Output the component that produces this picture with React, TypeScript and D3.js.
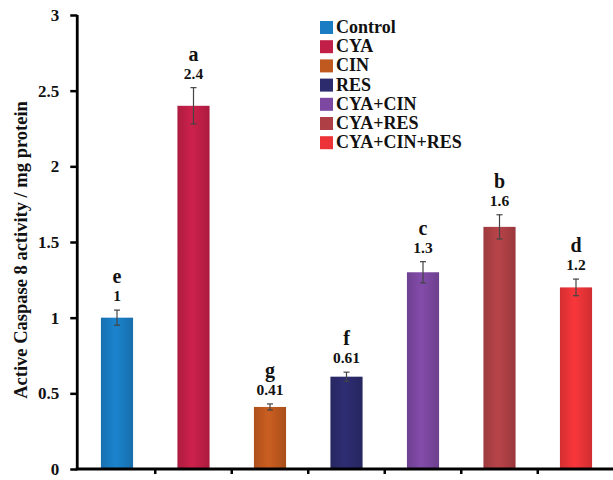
import React, { useEffect, useRef } from 'react';
import * as d3 from 'd3';

const groups = ['Control', 'CYA', 'CIN', 'RES', 'CYA+CIN', 'CYA+RES', 'CYA+CIN+RES'];
const values = [1, 2.4, 0.41, 0.61, 1.3, 1.6, 1.2];
const errors = [0.05, 0.12, 0.02, 0.03, 0.07, 0.08, 0.055];
const letters = ['e', 'a', 'g', 'f', 'c', 'b', 'd'];
const valueLabels = ['1', '2.4', '0.41', '0.61', '1.3', '1.6', '1.2'];
const colors = ['#1a7dc3', '#c21f47', '#c0591f', '#2b2b6d', '#7c48a1', '#ae4045', '#ec3438'];
const yTicks = [0, 0.5, 1, 1.5, 2, 2.5, 3];

const W = 613;
const H = 480;
const FONT = '"Liberation Serif", "Times New Roman", serif';

const App = () => {
  const ref = useRef<SVGSVGElement>(null);

  useEffect(() => {
    const svg = d3.select(ref.current)
      .attr('width', W)
      .attr('height', H);

    svg.selectAll('*').remove();

    const x0 = 78.75;
    const y = d3.scaleLinear().domain([0, 3]).range([469, 15]);
    const x = d3.scaleBand()
      .domain(groups)
      .range([x0, x0 + 76.5 * groups.length])
      .paddingInner(0.58)
      .paddingOuter(0.29);

    // gradients for the glossy bar look
    const defs = svg.append('defs');
    colors.forEach((c, i) => {
      const g = defs.append('linearGradient').attr('id', 'g' + i)
        .attr('x1', '0').attr('x2', '1').attr('y1', '0').attr('y2', '0');
      const base = d3.color(c)!;
      g.append('stop').attr('offset', '0%').attr('stop-color', base.darker(0.3).toString());
      g.append('stop').attr('offset', '45%').attr('stop-color', base.brighter(0.15).toString());
      g.append('stop').attr('offset', '100%').attr('stop-color', base.darker(0.35).toString());
    });

    // bars
    svg.append('g').selectAll('rect')
      .data(values)
      .enter()
      .append('rect')
      .attr('x', (d, i) => x(groups[i])!)
      .attr('y', d => y(d))
      .attr('width', x.bandwidth())
      .attr('height', d => y(0) - y(d))
      .attr('fill', (d, i) => `url(#g${i})`);

    // error bars
    const eb = svg.append('g').attr('stroke', '#444').attr('stroke-width', 1.2);
    values.forEach((v, i) => {
      const cx = x(groups[i])! + x.bandwidth() / 2;
      eb.append('line').attr('x1', cx).attr('x2', cx)
        .attr('y1', y(v - errors[i])).attr('y2', y(v + errors[i]));
      eb.append('line').attr('x1', cx - 3).attr('x2', cx + 3)
        .attr('y1', y(v + errors[i])).attr('y2', y(v + errors[i]));
      eb.append('line').attr('x1', cx - 3).attr('x2', cx + 3)
        .attr('y1', y(v - errors[i])).attr('y2', y(v - errors[i]));
    });

    // value labels and significance letters
    const lab = svg.append('g').attr('font-family', FONT).attr('font-weight', 'bold')
      .attr('text-anchor', 'middle').attr('fill', '#111');
    values.forEach((v, i) => {
      const cx = x(groups[i])! + x.bandwidth() / 2;
      const top = y(v + errors[i]);
      lab.append('text').attr('x', cx).attr('y', top - 9)
        .attr('font-size', 15.5).text(valueLabels[i]);
      lab.append('text').attr('x', cx).attr('y', top - 27)
        .attr('font-size', 20).text(letters[i]);
    });

    // y axis
    const yAxis = svg.append('g')
      .attr('transform', `translate(${x0 - 1.5},0)`)
      .call(d3.axisLeft(y).tickValues(yTicks).tickFormat(d3.format('')).tickSize(7).tickSizeOuter(0).tickPadding(11));
    yAxis.select('.domain').attr('stroke-width', 2.8).attr('d', `M0,${y(3)}V${y(0) + 1}`);
    yAxis.selectAll('.tick line').attr('stroke-width', 2.5);
    yAxis.selectAll('.tick text')
      .attr('font-family', FONT).attr('font-weight', 'bold').attr('font-size', 17).attr('fill', '#111');

    // x axis
    const xAxis = svg.append('g')
      .attr('transform', `translate(0,${y(0)})`)
      .call(d3.axisBottom(x).tickValues([]).tickSizeOuter(0));
    xAxis.select('.domain').attr('stroke-width', 3).attr('d', `M${x0 - 3},0H${W}`);
    const sep = groups.slice(1).map((g, i) => x0 + 76.5 * (i + 1));
    xAxis.selectAll('line.sep').data(sep).enter().append('line')
      .attr('x1', d => d).attr('x2', d => d).attr('y1', 0).attr('y2', 5)
      .attr('stroke', '#000').attr('stroke-width', 2.5);

    // y title
    svg.append('text')
      .attr('transform', 'translate(27,250) rotate(-90)')
      .attr('text-anchor', 'middle')
      .attr('font-family', FONT).attr('font-weight', 'bold').attr('font-size', 18.5)
      .attr('fill', '#111')
      .text('Active Caspase 8 activity / mg protein');

    // legend
    const leg = svg.append('g').attr('transform', 'translate(320,20)');
    groups.forEach((g, i) => {
      const row = leg.append('g').attr('transform', `translate(0,${i * 19.2})`);
      row.append('rect').attr('x', 0).attr('y', 1).attr('width', 13).attr('height', 13)
        .attr('fill', colors[i]);
      row.append('text').attr('x', 16).attr('y', 13)
        .attr('font-family', FONT).attr('font-weight', 'bold').attr('font-size', 18)
        .attr('fill', '#111').text(g);
    });
  }, []);

  return (
    <svg ref={ref} style={{ position: 'absolute', left: 0, top: 0, background: '#fff' }}></svg>
  );
};

export default App;
